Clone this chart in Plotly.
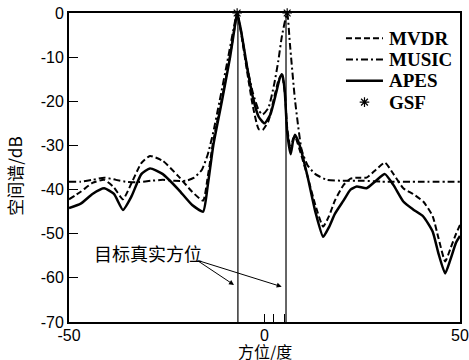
import plotly.graph_objects as go

# ---- data ----
apes_x = [-50, -47, -44, -41, -38.5, -36.2, -34, -31.5, -29.3, -26, -22, -18.5, -15.7, -14.5, -13.1, -10.9,
          -8.8, -7.5, -7, -6, -4.5, -3, -1.5, 0, 1.5, 3, 4, 4.6, 5.2, 5.8, 6.7, 7.3, 7.8, 9, 11, 13, 15,
          16.5, 18, 20.2, 22, 23.6, 26.1, 28.5, 30.8, 33, 35.5, 38, 40.6, 43, 44.5, 46.2, 47.5, 49, 50]
apes_y = [-44.2, -43.2, -41, -39.7, -41, -44.6, -41.5, -36.5, -35.2, -36.5, -40, -43.5, -45, -39, -30, -20,
          -10, -2.5, 0, -4, -12, -19, -23.5, -25, -23, -18, -14.5, -14, -18, -27, -32, -29, -27.6, -30, -37, -45, -50.7,
          -48.5, -45.5, -42.5, -40, -39.3, -39.7, -38, -36.5, -39, -42.7, -44.5, -46.1, -49.5, -54.5, -59, -56, -52, -50.5]

mvdr_x = [-50, -47, -44, -41, -38.5, -36.2, -34, -31.5, -29.3, -26, -22, -18.5, -15.7, -14.5, -13.1, -10.9,
          -8.8, -7.5, -7, -6, -4.5, -3, -1.5, -0.5, 1, 2.5, 3.5, 4.4, 5.2, 5.8, 6.7, 7.3, 7.8, 9, 11, 13, 15,
          16.5, 18, 20.2, 22, 24, 26.1, 28.5, 30.8, 33, 35.5, 38, 40.6, 43, 44.5, 46.2, 47.5, 49, 50]
mvdr_y = [-42.2, -40.5, -38.5, -37.8, -39.5, -42.2, -38.5, -34, -32.4, -33.5, -37, -40.5, -42.5, -37, -29, -19.5,
          -9.5, -2.5, 0, -4.5, -13, -21, -26.3, -26.5, -24.5, -19, -15.5, -13.8, -18, -26, -31, -28.5, -28, -31, -37, -43.5, -48.4,
          -46, -42.5, -39, -37.5, -37.3, -37.3, -35.5, -33.9, -36.5, -39.7, -41, -42.7, -46, -51, -56.3, -53.5, -50, -48]

music_x = [-50, -47, -44, -41, -38, -35, -32, -29, -26, -23, -20, -18, -16, -14.5, -13.1, -11.5, -9.5, -8, -7,
           -6, -4.5, -3, -1.5, -0.5, 1, 2.5, 3.5, 4.5, 5.8, 6.5, 7.8, 9.5, 11, 13, 16, 20, 25, 30, 40, 50]
music_y = [-38.2, -38.2, -37.8, -37.3, -37.8, -38.3, -38.3, -38, -37.8, -38, -38, -37.3, -35.5, -32, -27, -20, -11, -4, 0,
           -4, -12, -18, -22, -23, -21.5, -16, -11, -5, 0, -7, -19.7, -31, -34.5, -36.5, -37.8, -38, -38, -38.2, -38.2, -38.2]

gsf_x = [-7, 5.8]
gsf_y = [0, 0]

true_doa = [-6.8, 5.5]
minor_ticks = [2.4, 5.1]

x_ticks = [-50, 0, 50]
y_ticks = [0, -10, -20, -30, -40, -50, -60, -70]

legend_names = ["MVDR", "MUSIC", "APES", "GSF"]
legend_dash = ["6px,3px", "7px,3px,2px,3px", "solid", None]
legend_width = [2, 2, 2.5, 0]

fig = go.Figure()

fig.add_trace(go.Scatter(x=mvdr_x, y=mvdr_y, mode="lines", name="MVDR",
                         line=dict(color="black", width=2, dash="6px,3px", shape="spline", smoothing=0.5)))
fig.add_trace(go.Scatter(x=music_x, y=music_y, mode="lines", name="MUSIC",
                         line=dict(color="black", width=2, dash="7px,3px,2px,3px", shape="spline", smoothing=0.5)))
fig.add_trace(go.Scatter(x=apes_x, y=apes_y, mode="lines", name="APES",
                         line=dict(color="black", width=2.5, shape="spline", smoothing=0.5)))
fig.add_trace(go.Scatter(x=gsf_x, y=gsf_y, mode="markers", name="GSF", cliponaxis=False,
                         marker=dict(symbol="asterisk-open", size=8, color="black",
                                     line=dict(color="black", width=1.2))))

for xv in true_doa:
    fig.add_shape(type="line", x0=xv, x1=xv, y0=-70, y1=0, xref="x", yref="y",
                  line=dict(color="black", width=1.2))

# ---- manual legend (compact spacing like the original) ----
leg_x0, leg_x1, leg_tx = 0.7084, 0.803, 0.8135
leg_y0, leg_dy = 0.918, 0.0688
for i, name in enumerate(legend_names):
    yy = leg_y0 - i * leg_dy
    if legend_dash[i] is not None:
        fig.add_shape(type="line", x0=leg_x0, x1=leg_x1, y0=yy, y1=yy, xref="paper", yref="paper",
                      line=dict(color="black", width=legend_width[i], dash=legend_dash[i]))
    else:
        fig.add_trace(go.Scatter(x=[(leg_x0 + leg_x1) / 2], y=[yy], xaxis="x2", yaxis="y2", mode="markers",
                                 showlegend=False, hoverinfo="skip",
                                 marker=dict(symbol="asterisk-open", size=8, color="black",
                                             line=dict(color="black", width=1.2))))
    fig.add_annotation(x=leg_tx, y=yy, xref="paper", yref="paper", xanchor="left", yanchor="middle",
                       text=name, showarrow=False,
                       font=dict(family="Liberation Serif", size=19, color="black", weight="bold"))

label_x, label_y = -29.8, -54.4
tail_x, tail_y = -17.3, -56.0
heads = [(-7.8, -61.6), (4.4, -62.0)]
for hx, hy in heads:
    fig.add_annotation(x=hx, y=hy, ax=tail_x, ay=tail_y, xref="x", yref="y", axref="x", ayref="y",
                       text="", showarrow=True, arrowhead=2, arrowsize=1, arrowwidth=1, arrowcolor="black")
fig.add_annotation(x=label_x, y=label_y, xref="x", yref="y", text="目标真实方位", showarrow=False,
                   font=dict(family="Noto Sans CJK SC", size=18, color="black"))

fig.add_annotation(x=0.5, y=-0.094, xref="paper", yref="paper", xanchor="center", yanchor="middle",
                   text="方位/度", showarrow=False, borderpad=0,
                   font=dict(family="Noto Sans CJK SC", size=16, color="black"))
fig.add_annotation(x=-0.138, y=0.47, xref="paper", yref="paper", xanchor="center", yanchor="middle",
                   text="空间谱/dB", showarrow=False,
                   textangle=-90, font=dict(family="Noto Sans CJK SC", size=17, color="black"))

fig.update_layout(
    width=469, height=360,
    margin=dict(l=69, r=9, t=13, b=38, autoexpand=False),
    plot_bgcolor="white", paper_bgcolor="white",
    showlegend=False,
    font=dict(family="Liberation Sans", size=16, color="black"),
    xaxis2=dict(overlaying="x", range=[0, 1], visible=False, fixedrange=True),
    yaxis2=dict(overlaying="y", range=[0, 1], visible=False, fixedrange=True),
)
fig.layout.xaxis.update(range=[-50, 50], tickvals=x_ticks, ticktext=[str(v) for v in x_ticks], automargin=False,
                        ticks="inside", ticklen=8, tickwidth=1, tickcolor="black", ticklabelstandoff=-2,
                        showline=True, linecolor="black", linewidth=2, mirror=True,
                        showgrid=False, zeroline=False,
                        minor=dict(tickvals=minor_ticks, ticks="inside", ticklen=8, tickcolor="black"))
fig.layout.yaxis.update(range=[-70, 0], tickvals=y_ticks, ticktext=[str(v) for v in y_ticks], automargin=False,
                        ticks="inside", ticklen=9, tickwidth=1, tickcolor="black",
                        showline=True, linecolor="black", linewidth=2, mirror=True,
                        showgrid=False, zeroline=False)

fig.write_html("out.html", config={"displayModeBar": False},
               post_script="document.body.style.margin='0';document.body.style.overflow='hidden';")
